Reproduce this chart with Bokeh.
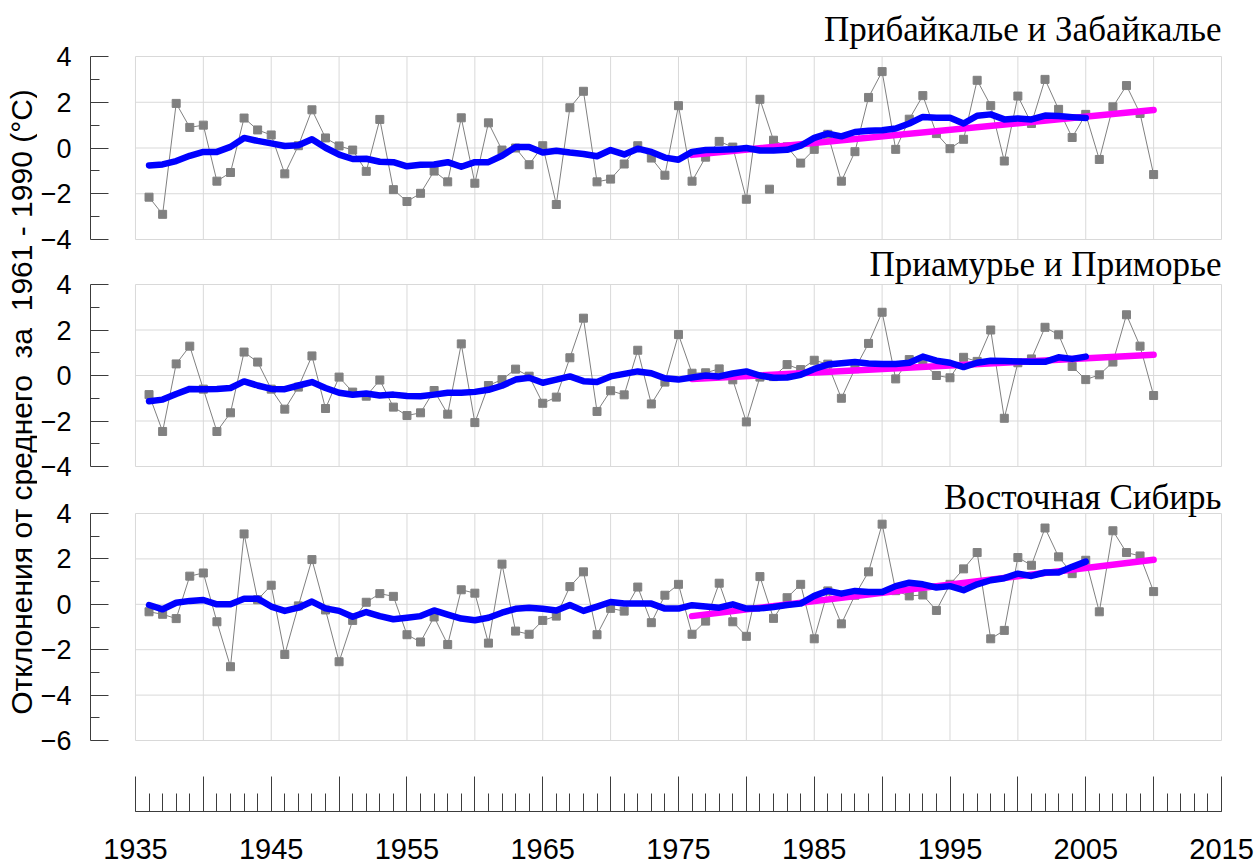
from bokeh.plotting import figure
from bokeh.models import Range1d, FixedTicker, Label
from bokeh.layouts import row, column
from bokeh.embed import file_html
from bokeh.resources import INLINE

# ---------------- data ----------------
years = list(range(1936, 2011))
smooth_years = list(range(1936, 2006))
trend_years = [1976, 2010]

titles = ["Прибайкалье и Забайкалье", "Приамурье и Приморье", "Восточная Сибирь"]
ylabel = "Отклонения от среднего\u00a0 за\u00a0 1961 - 1990 (°C)"

baikal = [-2.15, -2.9, 1.95, 0.9, 1.0, -1.45, -1.07, 1.31, 0.79, 0.57,
          -1.13, 0.1, 1.67, 0.44, 0.09, -0.09, -1.02, 1.25, -1.82, -2.34,
          -1.98, -1.01, -1.48, 1.32, -1.54, 1.1, -0.09, 0.0, -0.73, 0.1,
          -2.47, 1.76, 2.48, -1.48, -1.36, -0.70, 0.1, -0.44, -1.19, 1.85,
          -1.45, -0.40, 0.29, 0.04, -2.24, 2.13, 0.34, 0.05, -0.66, -0.06,
          0.6, -1.45, -0.16, 2.21, 3.34, -0.06, 1.26, 2.29, 0.63, -0.03,
          0.38, 2.96, 1.85, -0.57, 2.27, 1.07, 3.0, 1.69, 0.46, 1.47,
          -0.5, 1.8, 2.73, 1.51, -1.16]
baikal_extra_year = [1981.7]
baikal_extra_val = [-1.8]
baikal_smooth = [-0.76, -0.72, -0.57, -0.34, -0.17, -0.17, 0.05, 0.44, 0.31, 0.2,
                 0.09, 0.12, 0.38, 0.01, -0.29, -0.48, -0.47, -0.6, -0.62, -0.8,
                 -0.73, -0.72, -0.62, -0.82, -0.62, -0.62, -0.34, 0.04, 0.04, -0.2,
                 -0.12, -0.2, -0.26, -0.36, -0.09, -0.28, -0.03, -0.17, -0.42, -0.51,
                 -0.17, -0.09, -0.08, -0.06, 0.0, -0.11, -0.11, -0.08, 0.1, 0.44,
                 0.63, 0.51, 0.7, 0.75, 0.78, 0.85, 1.07, 1.36, 1.32, 1.32,
                 1.07, 1.41, 1.47, 1.25, 1.29, 1.25, 1.42, 1.4, 1.35, 1.31]
baikal_trend = [-0.3, 1.66]

amur = [-0.84, -2.46, 0.51, 1.29, -0.6, -2.46, -1.64, 1.03, 0.59, -0.6,
        -1.48, -0.51, 0.86, -1.45, -0.07, -0.73, -0.91, -0.2, -1.39, -1.76,
        -1.64, -0.66, -1.7, 1.39, -2.07, -0.44, -0.18, 0.28, -0.03, -1.22,
        -0.95, 0.78, 2.52, -1.58, -0.67, -0.85, 1.11, -1.25, -0.29, 1.8,
        0.1, 0.12, 0.29, -0.19, -2.04, -0.07, -0.05, 0.48, 0.26, 0.67,
        0.5, -1.0, 0.3, 1.41, 2.78, -0.15, 0.7, 0.55, 0.0, -0.1,
        0.8, 0.62, 2.0, -1.88, 0.56, 0.73, 2.12, 1.79, 0.4, -0.18,
        0.03, 0.59, 2.67, 1.29, -0.88]
amur_smooth = [-1.13, -1.06, -0.81, -0.59, -0.6, -0.59, -0.55, -0.26, -0.44, -0.59,
               -0.6, -0.44, -0.29, -0.55, -0.76, -0.85, -0.79, -0.88, -0.84, -0.9,
               -0.91, -0.84, -0.76, -0.76, -0.72, -0.63, -0.45, -0.18, -0.1, -0.32,
               -0.18, -0.04, -0.25, -0.29, -0.04, 0.07, 0.18, 0.1, -0.12, -0.18,
               -0.09, 0.0, -0.04, 0.09, 0.18, 0.0, -0.1, -0.09, 0.03, 0.29,
               0.48, 0.54, 0.59, 0.53, 0.51, 0.51, 0.56, 0.83, 0.65, 0.56,
               0.37, 0.56, 0.65, 0.64, 0.62, 0.6, 0.6, 0.8, 0.73, 0.83]
amur_trend = [-0.15, 0.91]

esib = [-0.33, -0.44, -0.63, 1.24, 1.38, -0.77, -2.75, 3.1, 0.2, 0.84,
        -2.21, -0.07, 1.97, -0.25, -2.53, -0.71, 0.09, 0.47, 0.35, -1.34,
        -1.66, -0.56, -1.77, 0.64, 0.49, -1.71, 1.77, -1.18, -1.32, -0.71,
        -0.52, 0.78, 1.43, -1.34, -0.18, -0.3, 0.76, -0.81, 0.4, 0.88,
        -1.32, -0.74, 0.93, -0.77, -1.41, 1.22, -0.62, 0.29, 0.88, -1.52,
        0.59, -0.86, 0.4, 1.43, 3.53, 0.6, 0.37, 0.41, -0.27, 0.88,
        1.56, 2.28, -1.52, -1.15, 2.06, 1.72, 3.36, 2.09, 1.35, 1.94,
        -0.33, 3.24, 2.28, 2.13, 0.56]
esib_smooth = [-0.03, -0.22, 0.07, 0.15, 0.19, 0.0, 0.0, 0.24, 0.25, -0.1,
               -0.29, -0.15, 0.12, -0.18, -0.29, -0.55, -0.34, -0.52, -0.66, -0.59,
               -0.52, -0.27, -0.45, -0.63, -0.7, -0.59, -0.37, -0.2, -0.15, -0.2,
               -0.27, -0.03, -0.29, -0.1, 0.1, 0.04, 0.03, 0.03, -0.19, -0.19,
               -0.04, -0.1, -0.15, 0.0, -0.19, -0.18, -0.12, -0.03, 0.03, 0.37,
               0.59, 0.47, 0.59, 0.54, 0.54, 0.8, 0.95, 0.88, 0.74, 0.8,
               0.62, 0.88, 1.06, 1.15, 1.35, 1.25, 1.4, 1.4, 1.65, 1.88]
esib_trend = [-0.52, 1.96]

x_major = list(range(1935, 2016, 5))
x_minor = list(range(1935, 2016))
x_labels = list(range(1935, 2016, 10))

# ---------------- styling / layout ----------------
PXY = 13.5875
X0 = 1935 - 45 / PXY
X1 = 2015 + 2 / PXY
FRAME_W = 1134
LBL_W = 37
LEFT_B = 52          # frame starts at x = 89
RIGHT_B = 4
FIG_W = LEFT_B + FRAME_W + RIGHT_B
AX_FIG_W = 1221      # the time axis strip is wider so the last year label fits
GRID = "#d9d9d9"
AXC = "#3c3c3c"
GRAY = "#808080"
YMAX = 4

xr = Range1d(X0, X1)


def panel(vals, smooth, trend, ymin, title, ppu, above_px, below_px, title_off,
          extra_x=None, extra_y=None):
    frame_h = above_px + (YMAX - ymin) * ppu + below_px
    p = figure(width=FIG_W, height=int(round(frame_h)), x_range=xr,
               y_range=Range1d(ymin - below_px / ppu, YMAX + above_px / ppu),
               output_backend="svg", toolbar_location=None,
               x_axis_location=None, title=None,
               min_border_left=LEFT_B, min_border_right=RIGHT_B,
               min_border_top=0, min_border_bottom=0)
    p.outline_line_color = None
    p.background_fill_color = "white"
    p.border_fill_color = "white"
    p.grid.visible = False

    yt = list(range(ymin, YMAX + 1, 2))
    ym = list(range(ymin + 1, YMAX, 2))
    # grid lines limited to the data box
    p.segment(x0=x_major, x1=x_major, y0=[ymin] * len(x_major),
              y1=[YMAX] * len(x_major), line_color=GRID, line_width=1)
    p.segment(x0=[x_major[0]] * len(yt), x1=[x_major[-1]] * len(yt),
              y0=yt, y1=yt, line_color=GRID, line_width=1)

    ax = p.yaxis[0]
    ax.axis_label = None
    ax.ticker = FixedTicker(ticks=yt, minor_ticks=ym)
    ax.bounds = (ymin, YMAX)
    ax.major_tick_in = 18
    ax.major_tick_out = 0
    ax.minor_tick_in = 9
    ax.minor_tick_out = 0
    ax.axis_line_color = AXC
    ax.major_tick_line_color = AXC
    ax.minor_tick_line_color = AXC
    ax.major_label_standoff = 19
    ax.major_label_text_font = "Liberation Sans"
    ax.major_label_text_font_size = "27px"
    ax.major_label_text_color = "black"

    p.line(years, vals, line_color=GRAY, line_width=1)
    p.scatter(years, vals, marker="square", size=8, fill_color=GRAY,
              line_color=GRAY)
    if extra_x:
        p.scatter(extra_x, extra_y, marker="square", size=8,
                  fill_color=GRAY, line_color=GRAY)
    p.line(trend_years, trend, line_color="#ff00ff", line_width=6.5,
           line_cap="round")
    p.line(smooth_years, smooth, line_color="#0000ff", line_width=6.5,
           line_cap="round", line_join="round")

    p.add_layout(Label(x=x_major[-1], y=YMAX, text=title, text_align="right",
                       text_baseline="middle", y_offset=title_off,
                       text_font="Liberation Serif", text_font_size="35px",
                       text_color="black"))
    return p


p1 = panel(baikal, baikal_smooth, baikal_trend, -4, titles[0], 183 / 8, 56, 12, 27.5,
           baikal_extra_year, baikal_extra_val)
p2 = panel(amur, amur_smooth, amur_trend, -4, titles[1], 182 / 8, 33, 12, 20)
p3 = panel(esib, esib_smooth, esib_trend, -6, titles[2], 227 / 10, 35, 14, 16.5)

# bottom shared time axis (drawn at a fixed place inside its own strip)
AX_H = 861 - (p1.height + p2.height + p3.height)
AX_LINE_FROM_BOTTOM = 50
ax_frame_w = AX_FIG_W - LEFT_B - RIGHT_B
pa = figure(width=AX_FIG_W, height=AX_H,
            x_range=Range1d(X0, X0 + ax_frame_w / PXY),
            y_range=Range1d(0, AX_H), output_backend="svg",
            toolbar_location=None, y_axis_location=None, title=None,
            min_border_left=LEFT_B, min_border_right=RIGHT_B,
            min_border_top=0, min_border_bottom=0)
pa.outline_line_color = None
pa.grid.visible = False
xa = pa.xaxis[0]
xa.axis_label = None
xa.fixed_location = AX_LINE_FROM_BOTTOM
xa.ticker = FixedTicker(ticks=x_major, minor_ticks=x_minor)
xa.major_label_overrides = {t: "" for t in x_major if t not in x_labels}
xa.bounds = (x_major[0], x_major[-1])
xa.major_tick_in = 35
xa.major_tick_out = 0
xa.minor_tick_in = 18
xa.minor_tick_out = 0
xa.axis_line_color = AXC
xa.major_tick_line_color = AXC
xa.minor_tick_line_color = AXC
xa.major_label_standoff = 27
xa.major_label_text_font = "Liberation Sans"
xa.major_label_text_font_size = "29px"
xa.major_label_text_color = "black"

total_h = p1.height + p2.height + p3.height + AX_H

# left column with the common y-axis title
pl = figure(width=LBL_W, height=total_h, x_range=Range1d(0, LBL_W),
            y_range=Range1d(0, total_h), output_backend="svg",
            toolbar_location=None, x_axis_location=None, y_axis_location=None,
            title=None, min_border=0)
pl.outline_line_color = None
pl.grid.visible = False
pl.add_layout(Label(x=20.5, y=total_h - 401.5, text=ylabel, angle=90,
                    angle_units="deg", text_align="center",
                    text_baseline="middle", text_font="Liberation Sans",
                    text_font_size="30px", text_color="black"))

layout = row(pl, column(p1, p2, p3, pa))

open("out.html", "w").write(file_html(layout, INLINE))
